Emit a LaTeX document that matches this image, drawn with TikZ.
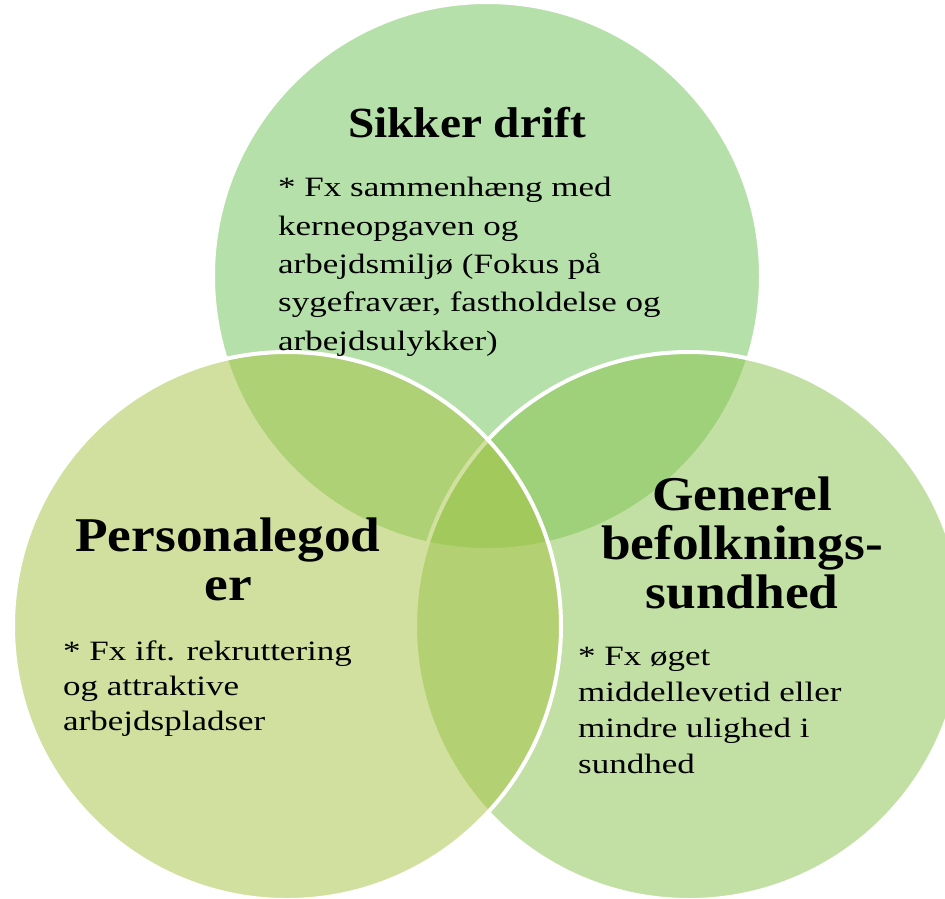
\documentclass[tikz,border=0pt]{standalone}
\usepackage{fontspec}
\setmainfont{Liberation Serif}[FakeStretch=1.25]
\newfontfamily\headFont{Liberation Serif}[FakeStretch=1.1]
\usepackage{xcolor}
\newcommand{\vennRadius}{274}
\newcommand{\rimWidth}{4}
\newcommand{\picWidth}{945}
\newcommand{\picHeight}{898}
\definecolor{driftGreen}{RGB}{111,195,85}
\definecolor{sundGreen}{RGB}{135,195,75}
\definecolor{goderGreen}{RGB}{165,195,65}

\begin{document}
\begin{tikzpicture}[x=1pt,y=-1pt,
    venn/.style={fill opacity=.5,draw=white,line width=\rimWidth},
    headline/.style={font=\headFont\bfseries\fontsize{#1}{49}\selectfont,inner sep=0,anchor=base,align=center},
    bodytext/.style={font=\fontsize{28}{#1}\selectfont,inner sep=0,anchor=base west,align=left}]

   \useasboundingbox (0,0) rectangle (\picWidth,\picHeight);
   \fill[white] (0,0) rectangle (\picWidth,\picHeight);
   \clip (0,0) rectangle (\picWidth,\picHeight);

      % three circles, the left one comes last
      \filldraw[venn,fill=driftGreen] (487,276) circle (\vennRadius);
      \filldraw[venn,fill=sundGreen] (689,626) circle (\vennRadius);
      \filldraw[venn,fill=goderGreen] (287,626) circle (\vennRadius);

   % multi-line nodes sit on the baseline of their last line
   \node[headline=43] (driftTitle) at (467,137) {Sikker drift};
   \node[bodytext=38.3] (driftText) at (278,350) {* Fx sammenhæng med\\kerneopgaven og\\arbejdsmiljø (Fokus på\\sygefravær, fastholdelse og\\arbejdsulykker)};

   \node[headline=48.5] (goderTitle) at (228,600) {Personalegod\\er};
   \node[bodytext=35] (goderText) at (63,730) {* Fx ift. rekruttering\\og attraktive\\arbejdspladser};

   \node[headline=48.5] (sundTitle) at (742,608) {Generel\\befolknings-\\sundhed};
   \node[bodytext=36] (sundText) at (578,773) {* Fx øget\\middellevetid eller\\mindre ulighed i\\sundhed};
\end{tikzpicture}
\end{document}
